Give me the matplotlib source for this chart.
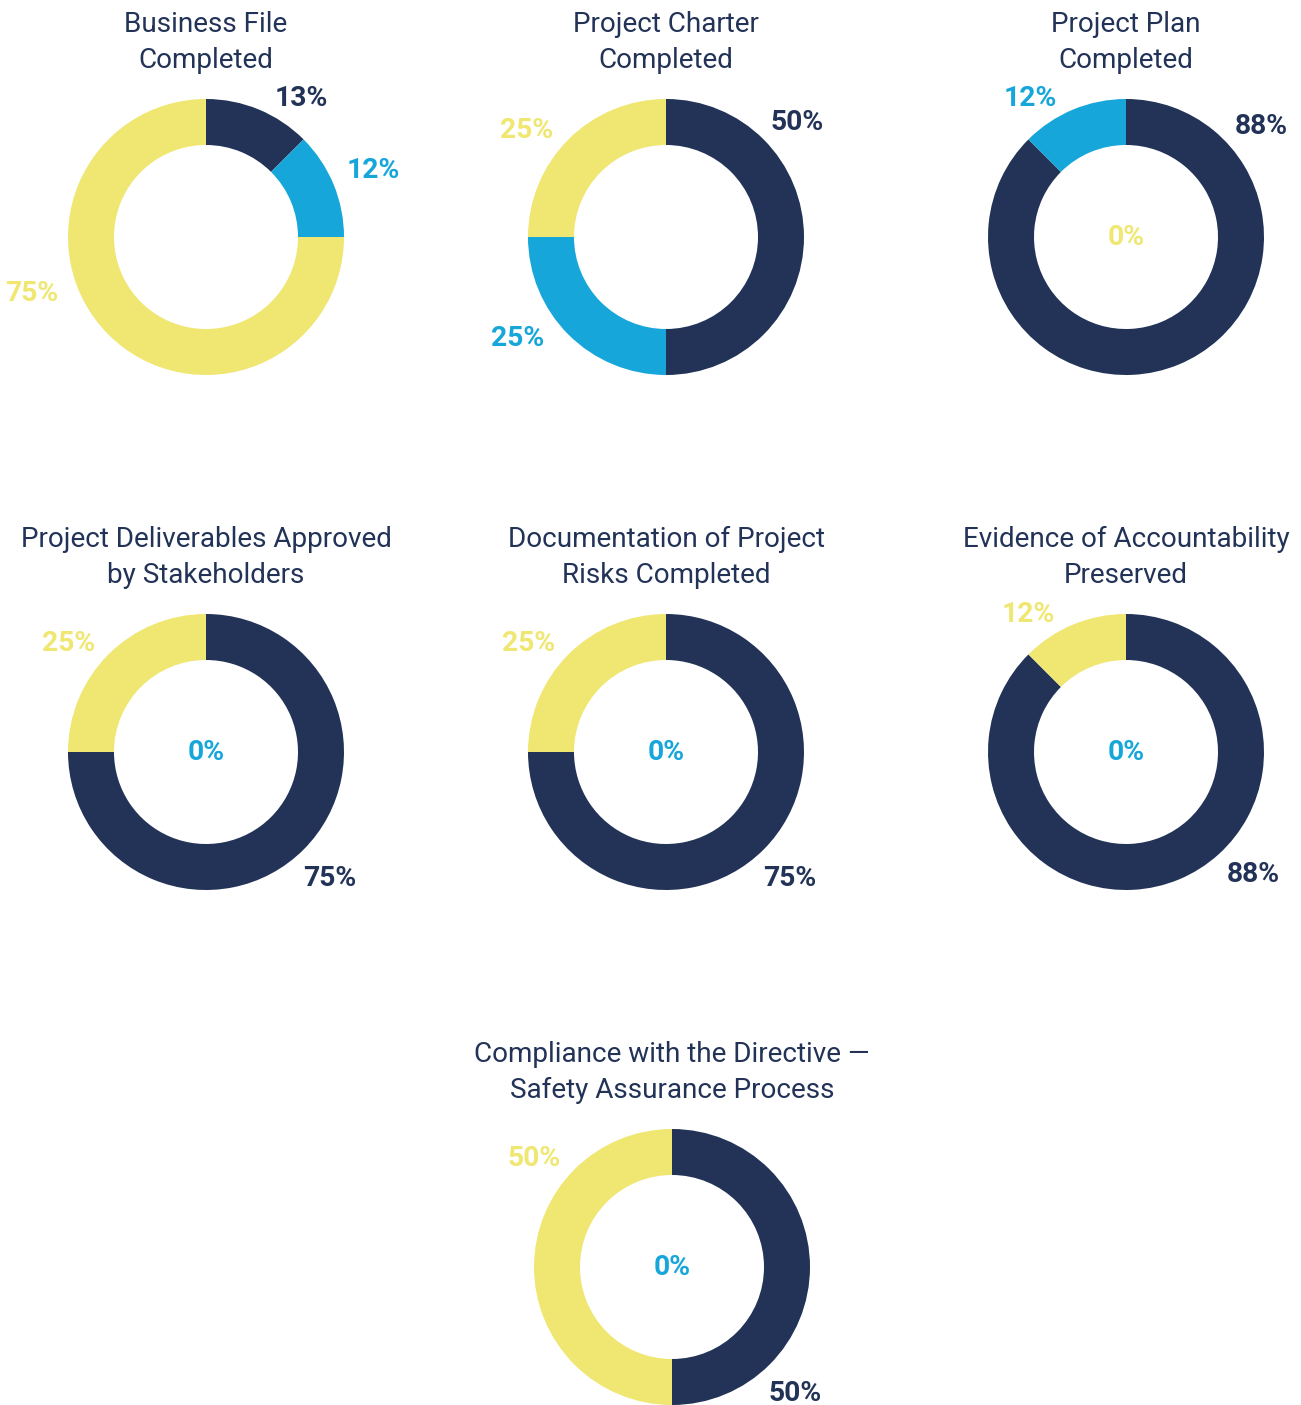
import matplotlib.pyplot as plt
import numpy as np

# chart data (share of each status per item, in %)
titles = [
    "Business File\nCompleted",
    "Project Charter\nCompleted",
    "Project Plan\nCompleted",
    "Project Deliverables Approved\nby Stakeholders",
    "Documentation of Project\nRisks Completed",
    "Evidence of Accountability\nPreserved",
    "Compliance with the Directive \u2014\nSafety Assurance Process",
]
navy_pct = [12.5, 50, 87.5, 75, 75, 87.5, 50]
blue_pct = [12.5, 25, 12.5, 0, 0, 0, 0]
yellow_pct = [75, 25, 0, 25, 25, 12.5, 50]
navy_lbl = ["13%", "50%", "88%", "75%", "75%", "88%", "50%"]
blue_lbl = ["12%", "25%", "12%", "0%", "0%", "0%", "0%"]
yellow_lbl = ["75%", "25%", "0%", "25%", "25%", "12%", "50%"]

# layout (pixels, y measured from top)
W, H = 1301, 1405
centers = [(206, 237), (666, 237), (1126, 237),
           (206, 752), (666, 752), (1126, 752),
           (672, 1267)]
# label direction, degrees clockwise from 12 o'clock (navy, blue, yellow)
label_angles = [(26, 64, 250), (42, 231, 314), (44, 334, None),
                (142, None, 315), (142, None, 315), (140, None, 333),
                (142, None, 315)]
R_OUT, RING = 138, 46
R_LABEL = 157

NAVY = "#223357"
BLUE = "#17a6da"
YELLOW = "#efe772"
colors = [NAVY, BLUE, YELLOW]
FS_TITLE = 20.1
FS_LABEL = 20.3

plt.rcParams['font.family'] = ['Roboto', 'DejaVu Sans']

fig = plt.figure(figsize=(W / 100, H / 100), dpi=100)
ax = fig.add_axes([0, 0, 1, 1])

for i, (cx, cy) in enumerate(centers):
    vals = [navy_pct[i], blue_pct[i], yellow_pct[i]]
    lbls = [navy_lbl[i], blue_lbl[i], yellow_lbl[i]]
    Y = H - cy
    ax.pie(vals, colors=colors, startangle=90, counterclock=False,
           radius=R_OUT, center=(cx, Y),
           wedgeprops=dict(width=RING, linewidth=0, antialiased=True))

    for k in range(3):
        if vals[k] == 0:
            # empty status: label sits in the hole
            ax.text(cx, Y + 2 - 10, lbls[k], color=colors[k], fontsize=FS_LABEL,
                    fontweight="bold", ha="center", va="baseline")
            continue
        a = np.deg2rad(label_angles[i][k])
        lx = cx + R_LABEL * np.sin(a)
        ly = Y + R_LABEL * np.cos(a)
        ax.text(lx, ly - 10, lbls[k], color=colors[k], fontsize=FS_LABEL,
                fontweight="bold", ha="left" if np.sin(a) > 0 else "right",
                va="baseline")

    # two line title above each ring
    line1, line2 = titles[i].split("\n")
    ax.text(cx, Y + 205, line1, color=NAVY, fontsize=FS_TITLE, ha="center", va="baseline")
    ax.text(cx, Y + 169, line2, color=NAVY, fontsize=FS_TITLE, ha="center", va="baseline")

ax.set_xlim(0, W)
ax.set_ylim(0, H)
ax.set_aspect("equal")
ax.axis("off")

fig.savefig("out.png", dpi=100, facecolor="white")
